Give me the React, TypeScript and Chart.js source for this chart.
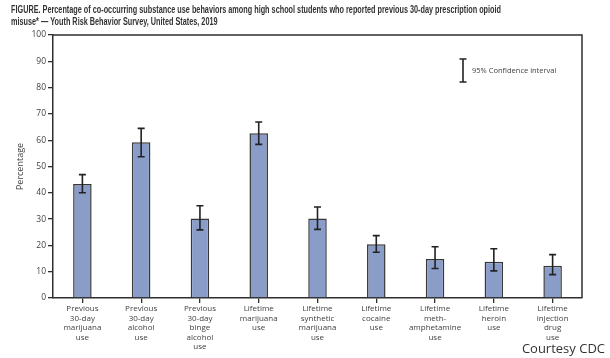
import React, { useEffect, useRef } from "react";
import { Chart, registerables } from "chart.js";
Chart.register(...registerables);

const titleLines = [
  "FIGURE. Percentage of co-occurring substance use behaviors among high school students who reported previous 30-day prescription opioid",
  "misuse* \u2014 Youth Risk Behavior Survey, United States, 2019",
];
const categories = [
  ["Previous", "30-day", "marijuana", "use"],
  ["Previous", "30-day", "alcohol", "use"],
  ["Previous", "30-day", "binge", "alcohol", "use"],
  ["Lifetime", "marijuana", "use"],
  ["Lifetime", "synthetic", "marijuana", "use"],
  ["Lifetime", "cocaine", "use"],
  ["Lifetime", "meth-", "amphetamine", "use"],
  ["Lifetime", "heroin", "use"],
  ["Lifetime", "injection", "drug", "use"],
];
const values = [43.3, 59.2, 30.2, 62.6, 30.2, 20.4, 14.8, 13.8, 12.3];
const ciLower = [40.0, 53.7, 25.9, 58.4, 26.1, 17.4, 11.2, 10.3, 8.9];
const ciUpper = [46.9, 64.5, 35.1, 66.9, 34.6, 23.7, 19.5, 18.7, 16.5];
const yMin = 0;
const yMax = 100;
const yStep = 10;
const yTitle = "Percentage";
const legendLabel = "95% Confidence interval";
const creditText = "Courtesy CDC";

const INK = "#2f2f2f";
const TEXT = "#3f3f3f";

const decorPlugin = {
  id: "decor",
  afterDatasetsDraw(chart: any) {
    const ctx = chart.ctx;
    const y = chart.scales.y;
    const meta = chart.getDatasetMeta(0);
    ctx.save();
    ctx.strokeStyle = "#222";
    ctx.lineWidth = 1.6;
    meta.data.forEach((el: any, i: number) => {
      const x = el.x;
      const yl = y.getPixelForValue(ciLower[i]);
      const yu = y.getPixelForValue(ciUpper[i]);
      const cap = 3.5;
      ctx.beginPath();
      ctx.moveTo(x, yl);
      ctx.lineTo(x, yu);
      ctx.moveTo(x - cap, yl);
      ctx.lineTo(x + cap, yl);
      ctx.moveTo(x - cap, yu);
      ctx.lineTo(x + cap, yu);
      ctx.stroke();
    });
    ctx.restore();
  },
  afterDraw(chart: any) {
    const ctx = chart.ctx;
    const a = chart.chartArea;
    ctx.save();
    // frame
    ctx.strokeStyle = INK;
    ctx.lineWidth = 1.5;
    ctx.beginPath();
    ctx.moveTo(a.left, a.top);
    ctx.lineTo(a.right, a.top);
    ctx.lineTo(a.right, a.bottom);
    ctx.stroke();
    // title (condensed by horizontal scaling)
    ctx.fillStyle = "#333";
    ctx.font = "bold 10px 'Liberation Sans', sans-serif";
    ctx.textAlign = "left";
    ctx.textBaseline = "middle";
    const w = ctx.measureText(titleLines[0]).width;
    const sx = Math.min(1, 490 / w);
    ctx.save();
    ctx.translate(11, 0);
    ctx.scale(sx, 1);
    ctx.fillText(titleLines[0], 0, 10);
    ctx.fillText(titleLines[1], 0, 22);
    ctx.restore();
    // legend
    const lx = a.right - 119;
    const ly1 = a.top + 24;
    const ly2 = a.top + 47;
    ctx.strokeStyle = "#222";
    ctx.lineWidth = 1.6;
    ctx.beginPath();
    ctx.moveTo(lx, ly1);
    ctx.lineTo(lx, ly2);
    ctx.moveTo(lx - 3.5, ly1);
    ctx.lineTo(lx + 3.5, ly1);
    ctx.moveTo(lx - 3.5, ly2);
    ctx.lineTo(lx + 3.5, ly2);
    ctx.stroke();
    ctx.fillStyle = TEXT;
    ctx.font = "7.5px 'Open Sans', sans-serif";
    ctx.fillText(legendLabel, lx + 9, (ly1 + ly2) / 2);
    // credit
    ctx.fillStyle = "#333";
    ctx.font = "13px 'Open Sans', sans-serif";
    ctx.textAlign = "right";
    ctx.fillText(creditText, 605, 349);
    ctx.restore();
  },
};

export default function App() {
  const ref = useRef<HTMLCanvasElement>(null);
  useEffect(() => {
    document.body.style.margin = "0";
    const chart = new Chart(ref.current as HTMLCanvasElement, {
      type: "bar",
      data: {
        labels: categories as any,
        datasets: [
          {
            data: values,
            backgroundColor: "#8a9dc9",
            borderColor: "#383838",
            borderWidth: 1.5,
            categoryPercentage: 1,
            barPercentage: 0.315,
          },
        ],
      },
      options: {
        animation: false,
        responsive: false,
        layout: { padding: { top: 35, right: 28, left: 0, bottom: 0 } },
        plugins: { legend: { display: false }, tooltip: { enabled: false }, title: { display: false } },
        scales: {
          x: {
            offset: true,
            grid: { offset: false, drawOnChartArea: false, tickLength: 5, color: INK, lineWidth: 1.3 },
            border: { color: INK, width: 1.5 },
            ticks: {
              autoSkip: false,
              maxRotation: 0,
              minRotation: 0,
              padding: 1,
              color: TEXT,
              font: { family: "'Open Sans', sans-serif", size: 8, lineHeight: 1.19 },
            },
            afterFit(scale: any) {
              scale.height = 60;
            },
          },
          y: {
            min: yMin,
            max: yMax,
            grid: { drawOnChartArea: false, tickLength: 5, color: INK, lineWidth: 1.3 },
            border: { color: INK, width: 1.5 },
            ticks: {
              stepSize: yStep,
              padding: 2,
              color: TEXT,
              font: { family: "'Open Sans', sans-serif", size: 8.5 },
            },
            title: {
              display: true,
              text: yTitle,
              color: TEXT,
              font: { family: "'Open Sans', sans-serif", size: 9 },
              padding: { top: 15, bottom: 0 },
            },
            afterFit(scale: any) {
              scale.width = 53;
            },
          },
        },
      },
      plugins: [decorPlugin],
    });
    return () => chart.destroy();
  }, []);
  return (
    <div style={{ width: 610, height: 358, background: "#fff" }}>
      <canvas ref={ref} width={610} height={358} style={{ display: "block" }} />
    </div>
  );
}
